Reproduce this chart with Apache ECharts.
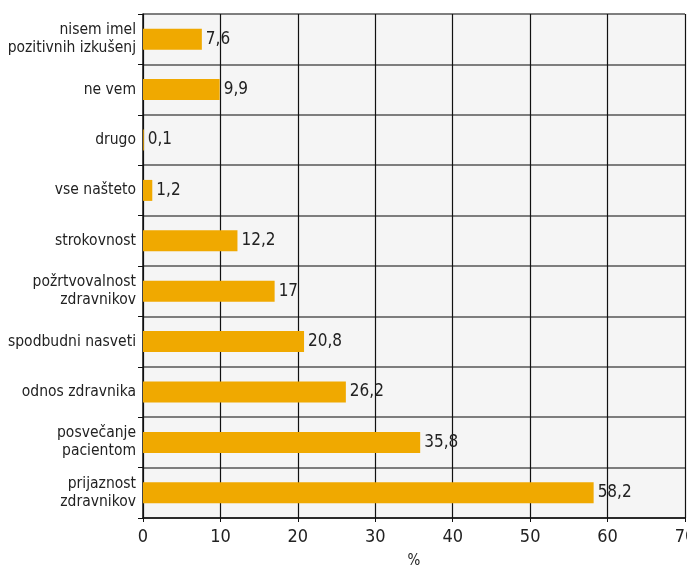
<!DOCTYPE html>
<html><head><meta charset="utf-8">
<script src="https://cdn.jsdelivr.net/npm/echarts@6/dist/echarts.min.js"></script>
<style>html,body{margin:0;padding:0;background:#fff}#c{width:687px;height:566px}</style>
</head><body><div id="c"></div>
<script>
const categories = ['nisem imel\npozitivnih izkušenj','ne vem','drugo','vse našteto','strokovnost','požrtvovalnost\nzdravnikov','spodbudni nasveti','odnos zdravnika','posvečanje\npacientom','prijaznost\nzdravnikov'];
const values = [7.6, 9.9, 0.1, 1.2, 12.2, 17, 20.8, 26.2, 35.8, 58.2];
const xTicks = [0, 10, 20, 30, 40, 50, 60, 70];
const FONT = '"Liberation Sans Narrow","DejaVu Sans Condensed",sans-serif';
const chart = echarts.init(document.getElementById('c'));
chart.setOption({
  animation: false,
  textStyle: {fontFamily: FONT},
  grid: {left: 143, right: 2, top: 14, bottom: 48, show: true, backgroundColor: '#f5f5f5', borderWidth: 0,
    outerBoundsMode: 'none', containLabel: false},
  xAxis: {
    type: 'value', min: xTicks[0], max: xTicks[xTicks.length-1], interval: 10,
    name: '%', nameLocation: 'middle', nameGap: 36,
    nameTextStyle: {fontFamily: FONT, fontSize: 15, color: '#222'},
    axisLine: {show: true, lineStyle: {color: '#111', width: 1.5}},
    axisTick: {show: true, length: 4, lineStyle: {color: '#111'}},
    axisLabel: {fontFamily: FONT, fontSize: 18, color: '#222', margin: 10},
    splitLine: {show: true, lineStyle: {color: '#111', width: 1.2}}
  },
  yAxis: {
    type: 'category', data: categories, inverse: true,
    axisLine: {show: true, lineStyle: {color: '#111', width: 1.5}},
    axisTick: {show: true, length: 5, lineStyle: {color: '#111'}},
    axisLabel: {fontFamily: FONT, fontSize: 15.5, color: '#222', margin: 7, lineHeight: 18, align: 'right'},
    splitLine: {show: true, lineStyle: {color: '#555', width: 1.5}}
  },
  series: [{
    type: 'bar', data: values, barWidth: 21,
    itemStyle: {color: '#f0a900'},
    label: {show: true, position: 'right', distance: 4, fontFamily: FONT, fontSize: 17, color: '#222',
      formatter: p => String(p.value).replace('.', ',')}
  }]
});
</script></body></html>
